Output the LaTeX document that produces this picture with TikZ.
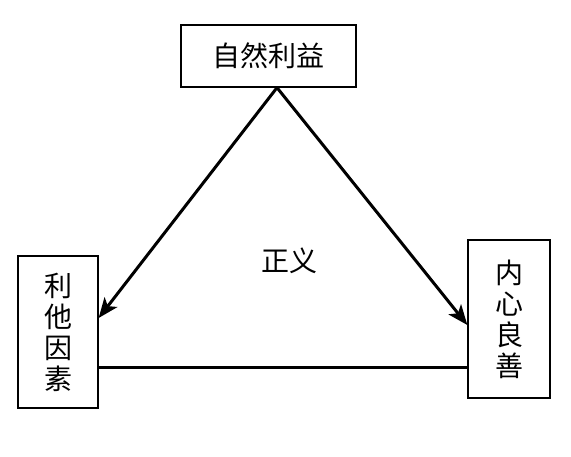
\documentclass[tikz,border=0pt]{standalone}
\usepackage{fontspec}
\newfontfamily\cjk{Noto Sans CJK SC}
\usetikzlibrary{arrows.meta}
\begin{document}
\begin{tikzpicture}[x=1pt,y=1pt,
  box/.style={draw,line width=1.3pt,inner sep=0pt,font=\cjk\fontsize{28}{31}\selectfont},
  conn/.style={line width=3pt},
  arr/.style={conn,-{Stealth[length=20pt,width=16pt,inset=5pt]}}]
\useasboundingbox (0,0) rectangle (571,456);
\node[box,minimum width=175pt,minimum height=62pt] (top) at (268.5,400) {自然利益};
\node[box,minimum width=80pt,minimum height=152pt,align=center] (left) at (58,124) {利\\他\\因\\素};
\node[box,minimum width=82pt,minimum height=158pt,align=center] (right) at (509,137) {内\\心\\良\\善};
\node[font=\cjk\fontsize{28}{30}\selectfont] (just) at (289,195) {正义};
\draw[arr] ([xshift=8.5pt]top.south) -- ([yshift=14pt]left.east);
\draw[arr] ([xshift=8.5pt]top.south) -- ([yshift=-6pt]right.west);
\draw[conn] ([yshift=-35pt]left.east) -- ([yshift=-48pt]right.west);
\end{tikzpicture}
\end{document}
